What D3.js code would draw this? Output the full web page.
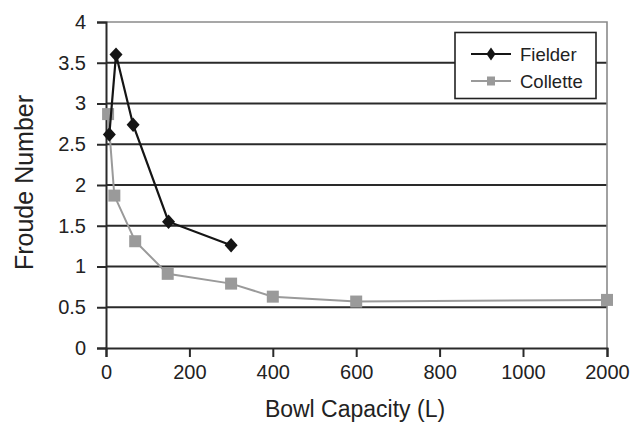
<!DOCTYPE html>
<html>
<head>
<meta charset="utf-8">
<script src="https://cdn.jsdelivr.net/npm/d3@7"></script>
<style>
  html, body { margin: 0; padding: 0; background: #fff; }
  svg { display: block; font-family: "Liberation Sans", Arial, Helvetica, sans-serif; }
</style>
</head>
<body>
<svg id="chart" width="635" height="422"></svg>
<script>
// ---- data ----
const fielderX = [8, 24, 65, 150, 300];
const fielderY = [2.62, 3.6, 2.74, 1.55, 1.26];
const colletteX = [5, 20, 70, 148, 300, 400, 600, 2000];
const colletteY = [2.87, 1.87, 1.31, 0.91, 0.79, 0.63, 0.57, 0.59];
const xTicks = [0, 200, 400, 600, 800, 1000, 2000];
const yTicks = [0, 0.5, 1, 1.5, 2, 2.5, 3, 3.5, 4];
const seriesNames = ["Fielder", "Collette"];
const xTitle = "Bowl Capacity (L)";
const yTitle = "Froude Number";

// ---- layout ----
const plotL = 106, plotR = 607, plotT = 22, plotB = 348;
const svg = d3.select("#chart");

// broken axis: 0..1000 linear, then 1000..2000 in one tick interval
const x = d3.scaleLinear().domain([0, 1000, 2000]).range([plotL, 523, plotR]);
const y = d3.scaleLinear().domain([0, 4]).range([plotB, plotT]);

// gridlines
svg.append("g").selectAll("line")
  .data(yTicks.filter(d => d > 0 && d < 4))
  .join("line")
  .attr("x1", plotL).attr("x2", plotR)
  .attr("y1", d => y(d)).attr("y2", d => y(d))
  .attr("stroke", "#2a2a2a").attr("stroke-width", 1.8);

// plot border (top and right) gray
svg.append("path")
  .attr("d", `M${plotL},${y(4)}H${plotR}V${plotB}`)
  .attr("fill", "none").attr("stroke", "#8a8a8a").attr("stroke-width", 1.6);

// y axis
const yAxis = d3.axisLeft(y).tickValues(yTicks).tickSize(9).tickPadding(11)
  .tickFormat(d => String(d));
const gy = svg.append("g").attr("transform", `translate(${plotL},0)`).call(yAxis);
gy.select(".domain").attr("stroke", "#2a2a2a").attr("stroke-width", 2);
gy.selectAll(".tick line").attr("stroke", "#2a2a2a").attr("stroke-width", 2);
gy.selectAll(".tick text").attr("font-size", 20).attr("fill", "#222")
  .attr("font-family", "Liberation Sans, Arial, sans-serif");

// x axis
const xAxis = d3.axisBottom(x).tickValues(xTicks).tickSize(9).tickPadding(8)
  .tickFormat(d => String(d));
const gx = svg.append("g").attr("transform", `translate(0,${plotB})`).call(xAxis);
gx.select(".domain").attr("stroke", "#2a2a2a").attr("stroke-width", 2);
gx.selectAll(".tick line").attr("stroke", "#2a2a2a").attr("stroke-width", 2);
gx.selectAll(".tick text").attr("font-size", 20).attr("fill", "#222")
  .attr("font-family", "Liberation Sans, Arial, sans-serif");

// axis titles
svg.append("text").attr("x", 355).attr("y", 417).attr("text-anchor", "middle")
  .attr("font-size", 23).attr("fill", "#222").text(xTitle);
svg.append("text").attr("transform", "translate(33,182.5) rotate(-90)")
  .attr("text-anchor", "middle").attr("font-size", 25).attr("fill", "#222").text(yTitle);

// series
const line = d3.line().x(d => x(d[0])).y(d => y(d[1]));
const collette = colletteX.map((v, i) => [v, colletteY[i]]);
const fielder = fielderX.map((v, i) => [v, fielderY[i]]);
const grayCol = "#9a9a9a", darkCol = "#151515";

svg.append("path").datum(collette).attr("d", line)
  .attr("fill", "none").attr("stroke", grayCol).attr("stroke-width", 2);
svg.append("g").selectAll("rect").data(collette).join("rect")
  .attr("x", d => x(d[0]) - 6).attr("y", d => y(d[1]) - 6)
  .attr("width", 12).attr("height", 12).attr("fill", grayCol);

svg.append("path").datum(fielder).attr("d", line)
  .attr("fill", "none").attr("stroke", darkCol).attr("stroke-width", 2.2);
const diamond = (cx, cy, w, h) => `M${cx},${cy - h}L${cx + w},${cy}L${cx},${cy + h}L${cx - w},${cy}Z`;
svg.append("g").selectAll("path").data(fielder).join("path")
  .attr("d", d => diamond(x(d[0]), y(d[1]), 6.5, 7.2)).attr("fill", darkCol);

// legend
const lg = svg.append("g");
lg.append("rect").attr("x", 455).attr("y", 32.5).attr("width", 141).attr("height", 66)
  .attr("fill", "#fff").attr("stroke", "#222").attr("stroke-width", 1.6);
const legendRows = [
  { name: seriesNames[0], color: darkCol, ly: 54, shape: "diamond" },
  { name: seriesNames[1], color: grayCol, ly: 81, shape: "square" }
];
legendRows.forEach(r => {
  lg.append("line").attr("x1", 471).attr("x2", 511).attr("y1", r.ly).attr("y2", r.ly)
    .attr("stroke", r.color).attr("stroke-width", 2);
  if (r.shape === "diamond") {
    lg.append("path").attr("d", diamond(491, r.ly, 4.5, 6.5)).attr("fill", r.color);
  } else {
    lg.append("rect").attr("x", 487).attr("y", r.ly - 4.5).attr("width", 8).attr("height", 9).attr("fill", r.color);
  }
  lg.append("text").attr("x", 520).attr("y", r.ly + 6.5).attr("font-size", 18.5)
    .attr("fill", "#222").text(r.name);
});
</script>
</body>
</html>
